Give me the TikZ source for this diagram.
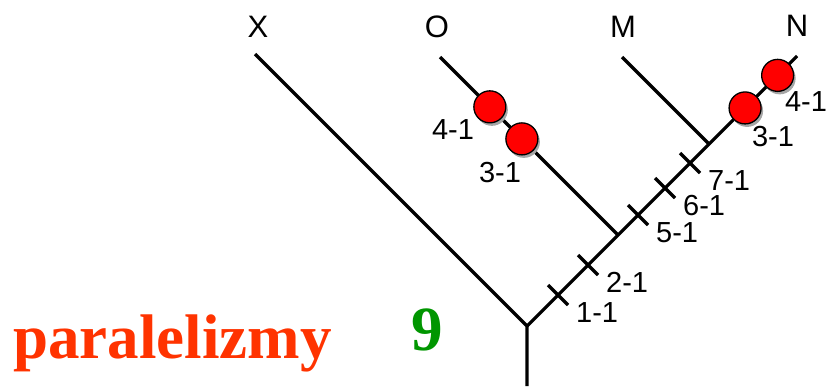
\documentclass[tikz,border=0pt]{standalone}
\usepackage{fontspec}
\setmainfont{Liberation Sans}
\newfontfamily\titlefont{Liberation Serif}
\definecolor{dotred}{RGB}{255,0,0}
\definecolor{wordred}{RGB}{255,51,0}
\definecolor{numgreen}{RGB}{0,150,0}
\tikzset{
  branch/.style={line width=3.2pt},
  tipname/.style={font=\fontsize{31}{34}\selectfont, inner sep=0pt},
  steplabel/.style={font=\fontsize{29}{32}\selectfont, inner sep=0pt},
  reddot/.style={circle, draw=black, line width=1.3pt, fill=dotred, minimum size=32pt, inner sep=0pt},
  bigword/.style={anchor=base west, inner sep=0pt, font=\titlefont\bfseries\fontsize{63}{70}\selectfont},
}
\begin{document}
\begin{tikzpicture}[x=1pt,y=-1pt]
    \useasboundingbox (0,0) rectangle (827,386);

    % branch points
    \coordinate (root) at (527,326);
    \coordinate (stem) at (527,386);
    \coordinate (xtip) at (255,54);
    \coordinate (ojoin) at (618,235);
    \coordinate (otip) at (440,57);
    \coordinate (mjoin) at (709,144);
    \coordinate (mtip) at (622,57);
    \coordinate (ntip) at (797,56);

    % taxa
    \node[tipname] (X) at (258,27) {X};
    \node[tipname] (O) at (437,27) {O};
    \node[tipname] (M) at (623,27) {M};
    \node[tipname] (N) at (797,26) {N};

    % tree
    \draw[branch] (stem) -- (root) -- (xtip);
    \draw[branch] (root) -- (ntip);
    \draw[branch] (ojoin) -- (otip);
    \draw[branch] (mjoin) -- (mtip);

    % changes on the main stem
    \foreach \d/\lab [count=\i] in {31/1-1, 61/2-1, 111/5-1, 138/6-1, 163/7-1} {
        \coordinate (k\i) at ([shift={(\d,-\d)}]root);
        \draw[branch] ([shift={(-10,-10)}]k\i) -- ([shift={(10,10)}]k\i) coordinate (ke\i);
        \node[steplabel, anchor=north west] (l\i) at ([shift={(8,-3)}]ke\i) {\lab};
    }

    % parallel changes on O and N
    \path (ojoin) -- (otip) coordinate[pos=0.54] (o3) coordinate[pos=0.72] (o4);
    \path (mjoin) -- (ntip) coordinate[pos=0.41] (n3) coordinate[pos=0.78] (n4);
    \foreach \c in {o3,o4,n3,n4} {
        \fill[gray!70] ([shift={(2,3)}]\c) circle[radius=16];
        \node[reddot] (\c dot) at (\c) {};
    }
    \node[steplabel] (o4lab) at (453,130) {4-1};
    \node[steplabel] (o3lab) at (500,173) {3-1};
    \node[steplabel] (n3lab) at (773,137) {3-1};
    \node[steplabel] (n4lab) at (806,102) {4-1};

    % caption
    \node[bigword, text=wordred] (word) at (13,358) {paralelizmy};
    \node[bigword, text=numgreen] (num) at (411,350) {9};
\end{tikzpicture}
\end{document}
